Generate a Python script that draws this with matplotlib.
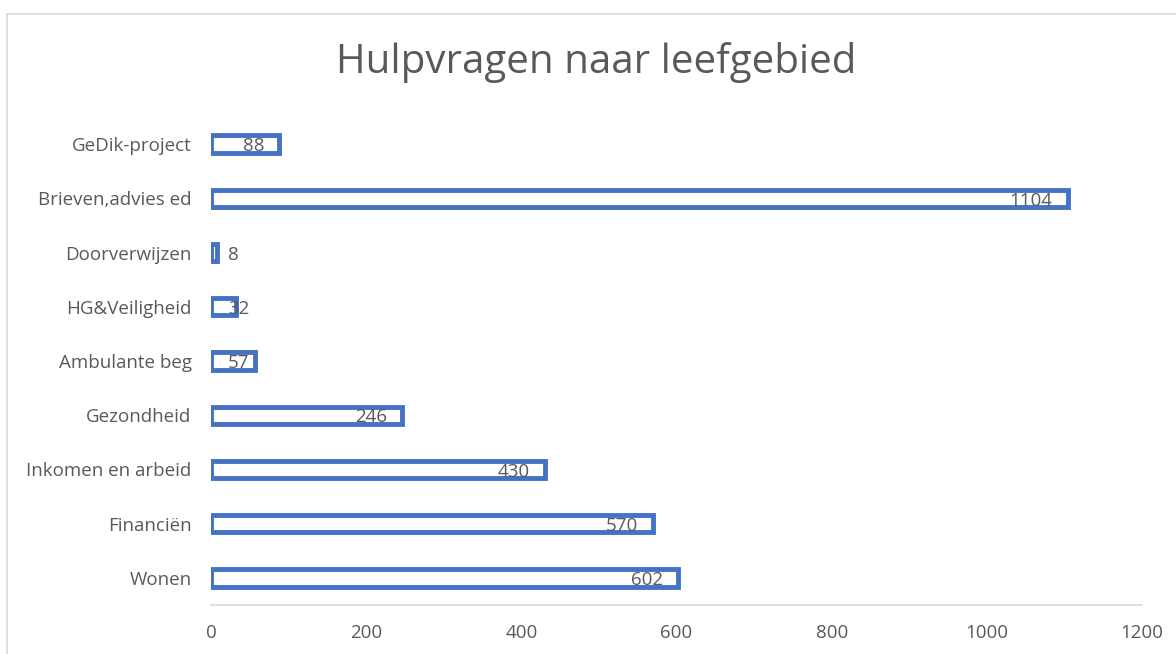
import matplotlib
matplotlib.use("Agg")
import matplotlib.pyplot as plt
from matplotlib.lines import Line2D

# Data (bottom to top as in the chart)
categories = ['Wonen', 'Financiën', 'Inkomen en arbeid', 'Gezondheid', 'Ambulante beg',
              'HG&Veiligheid', 'Doorverwijzen', 'Brieven,advies ed', 'GeDik-project']
values = [602, 570, 430, 246, 57, 32, 8, 1104, 88]
xticks = [0, 200, 400, 600, 800, 1000, 1200]

blue = '#4472C4'
gray = '#595959'
plt.rcParams['font.family'] = ['Open Sans', 'DejaVu Sans']

fig = plt.figure(figsize=(11.76, 6.54), dpi=100)
ax = fig.add_axes([0.1794, 0.075, 0.7917, 0.746])

pos = range(len(categories))
ax.barh(pos, values, height=0.32, color='white', edgecolor=blue, linewidth=3.5)

ax.set_xlim(0, 1200)
ax.set_ylim(-0.5, len(categories) - 0.5)
ax.set_xticks(xticks)
ax.set_xticklabels([str(t) for t in xticks])
ax.set_yticks(list(pos))
ax.set_yticklabels(categories)
ax.tick_params(axis='both', length=0, labelsize=13.5, labelcolor=gray)
ax.tick_params(axis='y', pad=14)
ax.tick_params(axis='x', pad=14)

for s in ['top', 'right', 'left']:
    ax.spines[s].set_visible(False)
ax.spines['bottom'].set_color('#D9D9D9')
ax.spines['bottom'].set_linewidth(1.2)

# Data labels at inside end, clamped near the axis for short bars
fig.canvas.draw()
renderer = fig.canvas.get_renderer()
px = (ax.transData.transform((1200, 0))[0] - ax.transData.transform((0, 0))[0]) / 1200
offset = 15 / px
clamp = 17 / px
for y, v in zip(pos, values):
    t = ax.text(v - offset, y - 0.04, str(v), ha='right', va='center', fontsize=13.5, color=gray)
    w = t.get_window_extent(renderer).width / px
    if v - offset - w < clamp:
        t.set_x(clamp)
        t.set_ha('left')

fig.text(0.507, 0.905, 'Hulpvragen naar leefgebied', ha='center', va='center',
         fontsize=29, color=gray)

# outer chart frame
fig.add_artist(Line2D([7 / 1176, 7 / 1176], [0, 1 - 14 / 654], transform=fig.transFigure,
                      color='#D9D9D9', linewidth=1.2))
fig.add_artist(Line2D([7 / 1176, 1], [1 - 14 / 654, 1 - 14 / 654], transform=fig.transFigure,
                      color='#D9D9D9', linewidth=1.2))

fig.savefig('out.png', dpi=100, facecolor='white')
